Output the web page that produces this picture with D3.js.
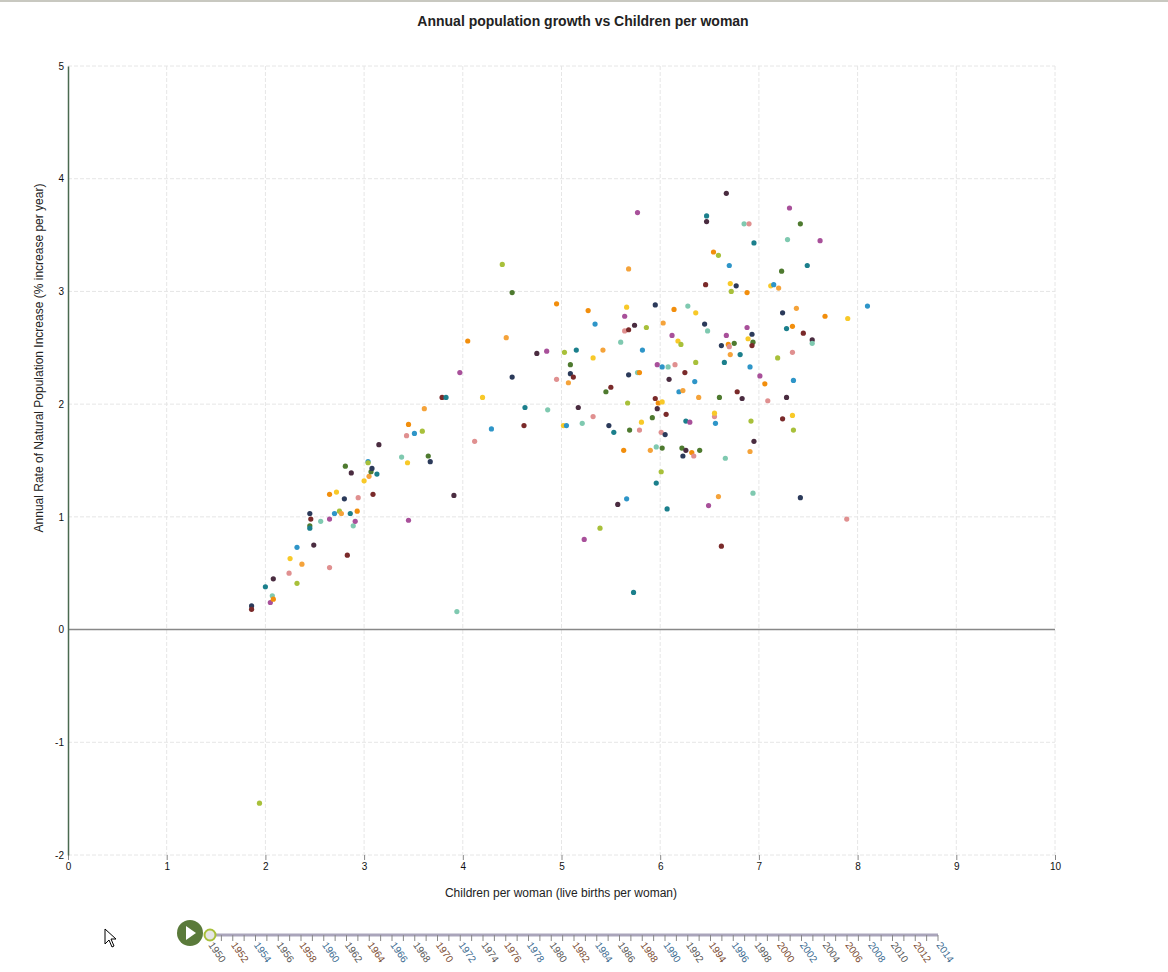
<!DOCTYPE html>
<html><head><meta charset="utf-8">
<script src="https://cdn.jsdelivr.net/npm/d3@7"></script>
<style>body{margin:0;background:#fff;font-family:"Liberation Sans",Arial,sans-serif}</style>
</head><body><svg id="c" width="1168" height="972"></svg>
<script>
const fertility=[1.86,1.86,2.0,2.08,2.07,2.05,2.08,2.24,2.25,2.32,2.32,2.37,2.45,2.45,2.46,2.45,2.49,2.56,2.65,2.65,2.65,2.72,2.70,2.75,2.77,2.81,2.80,2.83,2.86,2.87,2.89,2.91,2.93,2.94,3.0,3.04,3.04,3.05,3.07,3.08,3.09,3.13,3.15,3.38,3.45,3.45,3.43,3.44,3.51,3.59,3.61,3.65,3.67,3.79,3.83,3.91,3.94,3.97,4.05,4.12,4.2,4.29,4.40,4.44,4.50,4.50,4.62,4.63,4.75,4.86,4.85,4.95,4.95,5.02,5.05,5.03,5.07,5.09,5.09,5.12,5.15,5.17,5.21,5.23,5.27,5.32,5.32,5.34,5.39,5.42,5.45,5.48,5.50,5.53,5.57,5.60,5.64,5.63,5.64,5.66,5.66,5.67,5.68,5.69,5.68,5.68,5.73,5.74,5.77,5.77,5.79,5.79,5.81,5.82,5.86,5.90,5.92,5.95,5.95,5.96,5.97,5.96,5.97,5.98,6.01,6.02,6.02,6.01,6.03,6.02,6.05,6.06,6.07,6.09,6.08,6.12,6.14,6.15,6.18,6.19,6.21,6.23,6.22,6.23,6.25,6.26,6.26,6.28,6.30,6.32,6.34,6.36,6.35,6.36,6.39,6.40,6.45,6.46,6.47,6.47,6.48,6.49,6.54,6.55,6.55,6.56,6.59,6.59,6.60,6.62,6.62,6.65,6.67,6.66,6.67,6.69,6.70,6.71,6.70,6.72,6.71,6.75,6.77,6.78,6.81,6.83,6.85,6.88,6.88,6.90,6.89,6.91,6.92,6.91,6.94,6.93,6.93,6.95,6.95,6.94,7.01,7.06,7.09,7.12,7.15,7.19,7.20,7.23,7.24,7.24,7.28,7.28,7.29,7.31,7.34,7.34,7.34,7.35,7.35,7.38,7.42,7.42,7.45,7.49,7.54,7.54,7.62,7.67,7.89,7.90,8.10,1.94];
const growth=[0.21,0.18,0.38,0.45,0.30,0.24,0.27,0.50,0.63,0.73,0.41,0.58,0.92,1.03,0.98,0.90,0.75,0.96,0.98,1.20,0.55,1.22,1.03,1.05,1.03,1.45,1.16,0.66,1.03,1.39,0.92,0.96,1.05,1.17,1.32,1.49,1.48,1.36,1.40,1.43,1.20,1.38,1.64,1.53,0.97,1.82,1.72,1.48,1.74,1.76,1.96,1.54,1.49,2.06,2.06,1.19,0.16,2.28,2.56,1.67,2.06,1.78,3.24,2.59,2.99,2.24,1.81,1.97,2.45,1.95,2.47,2.89,2.22,1.81,1.81,2.46,2.19,2.35,2.27,2.24,2.48,1.97,1.83,0.80,2.83,1.89,2.41,2.71,0.90,2.48,2.11,1.81,2.15,1.75,1.11,2.55,2.78,1.59,2.65,2.86,1.16,2.01,3.20,1.77,2.26,2.66,0.33,2.70,2.28,3.70,2.28,1.77,1.84,2.48,2.68,1.59,1.88,2.88,2.05,1.30,1.96,1.62,2.35,2.01,1.75,2.02,2.33,1.40,2.72,1.61,1.73,1.91,1.07,2.22,2.33,2.61,2.84,2.35,2.56,2.11,2.53,2.12,1.61,1.54,2.28,1.85,1.59,2.87,1.84,1.57,1.54,2.81,2.20,2.37,2.06,1.59,2.71,3.06,3.67,3.62,2.65,1.10,3.35,1.89,1.92,1.83,3.32,1.18,2.06,2.52,0.74,2.37,3.87,1.52,2.61,2.53,2.51,3.07,3.23,3.00,2.44,2.54,3.05,2.11,2.44,2.05,3.60,2.68,2.99,3.60,2.58,2.33,1.85,1.58,2.55,2.62,2.52,3.43,1.67,1.21,2.25,2.18,2.03,3.05,3.06,2.41,3.03,3.18,2.81,1.87,2.67,2.06,3.46,3.74,2.69,2.46,1.90,2.21,1.77,2.85,3.60,1.17,2.63,3.23,2.57,2.54,3.45,2.78,0.98,2.76,2.87,-1.54];
const xTicks=[0,1,2,3,4,5,6,7,8,9,10];
const yTicks=[-2,-1,0,1,2,3,4,5];
const years=d3.range(1950,2015);
const palette=["#2b3a5a","#1b7f8c","#7fc9b0","#f28e0c","#f8c928","#a8c03a","#4e7a2f","#7a2a2a","#4a2c40","#a8509a","#e09090","#2e95c8","#f5a33a"];

const svg=d3.select("#c");
svg.append("line").attr("x1",0).attr("x2",1168).attr("y1",1).attr("y2",1).attr("stroke","#c8c8c0").attr("stroke-width",2);
const x=d3.scaleLinear().domain([0,10]).range([68,1055]);
const y=d3.scaleLinear().domain([-2,5]).range([855,66]);
svg.append("g").selectAll("line").data(xTicks.slice(1)).join("line")
 .attr("x1",d=>x(d)).attr("x2",d=>x(d)).attr("y1",y(5)).attr("y2",y(-2))
 .attr("stroke","#e6e6e6").attr("stroke-dasharray","4,2");
svg.append("g").selectAll("line").data(yTicks).join("line")
 .attr("x1",x(0)).attr("x2",x(10)).attr("y1",d=>y(d)).attr("y2",d=>y(d))
 .attr("stroke","#e6e6e6").attr("stroke-dasharray","4,2");
svg.append("line").attr("x1",x(0)).attr("x2",x(10)).attr("y1",y(0)).attr("y2",y(0)).attr("stroke","#888").attr("stroke-width",1.5);
const xa=svg.append("g").attr("transform",`translate(0,${y(-2)})`).call(d3.axisBottom(x).tickValues(xTicks).tickSize(5).tickFormat(d=>String(d)));
xa.select(".domain").remove();
xa.selectAll("line").attr("stroke","#888");
xa.selectAll("text").attr("font-size",10).attr("fill","#111").attr("font-family","Liberation Sans, Arial");
const ya=svg.append("g").attr("transform",`translate(${x(0)},0)`).call(d3.axisLeft(y).tickValues(yTicks).tickSize(0).tickPadding(4).tickFormat(d=>String(d)));
ya.select(".domain").attr("stroke","#4a6a50").attr("stroke-width",1.5);
ya.selectAll("text").attr("font-size",10).attr("fill","#111").attr("font-family","Liberation Sans, Arial");
svg.append("g").selectAll("circle").data(fertility).join("circle")
 .attr("cx",d=>x(d)).attr("cy",(d,i)=>y(growth[i])).attr("r",2.6)
 .attr("fill",(d,i)=>palette[(i*7)%palette.length]);
svg.append("text").attr("x",583).attr("y",26).attr("text-anchor","middle").attr("font-size",14).attr("font-weight","bold").attr("fill","#222").text("Annual population growth vs Children per woman");
svg.append("text").attr("x",561).attr("y",897).attr("text-anchor","middle").attr("font-size",12).attr("fill","#222").text("Children per woman (live births per woman)");
svg.append("text").attr("transform","translate(43,358) rotate(-90)").attr("text-anchor","middle").attr("font-size",12).attr("fill","#222").text("Annual Rate of Natural Population Increase (% increase per year)");
const s=d3.scaleLinear().domain([1950,2014]).range([210,938]);
svg.append("line").attr("x1",s(1950)).attr("x2",s(2014)).attr("y1",935).attr("y2",935).attr("stroke","#aaa5bb").attr("stroke-width",3);
svg.append("g").selectAll("line").data(years).join("line")
 .attr("x1",d=>s(d)).attr("x2",d=>s(d)).attr("y1",935).attr("y2",941).attr("stroke","#888");
svg.append("g").selectAll("text").data(years.filter(d=>d%2===0)).join("text")
 .attr("transform",d=>`translate(${s(d)-2},945) rotate(55)`).attr("font-size",10)
 .attr("fill",(d,i)=>["#555","#7a4a30","#3a6a90"][i%3]).text(d=>d);
svg.append("circle").attr("cx",190).attr("cy",933).attr("r",13).attr("fill","#5a7a3a");
svg.append("path").attr("d","M186,926 L196,933 L186,940 Z").attr("fill","#fff");
svg.append("circle").attr("cx",s(1950)).attr("cy",935).attr("r",5.5).attr("fill","#e6e6e6").attr("stroke","#a8c03a").attr("stroke-width",2);
svg.append("path").attr("d","M105,929 L105,944 L109,940 L112,947 L114,946 L111,939 L116,939 Z").attr("fill","#fff").attr("stroke","#000");
</script></body></html>
